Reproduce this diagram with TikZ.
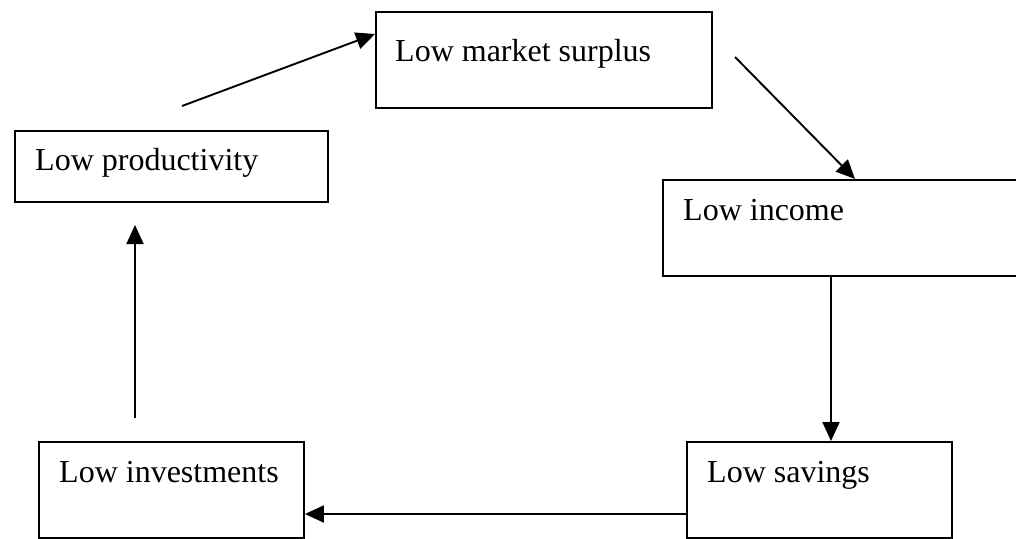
\documentclass[tikz,border=0pt]{standalone}
\usepackage{fontspec}
\setmainfont{Liberation Serif}
\usetikzlibrary{arrows.meta}
\begin{document}
\begin{tikzpicture}[x=1pt,y=1pt,
  box/.style={draw=black, line width=1.9pt, rectangle, inner sep=0pt, anchor=north west},
  lbl/.style={anchor=base west, inner sep=0pt, font=\fontsize{32}{38}\selectfont},
  arr/.style={draw=black, line width=1.9pt, -{Triangle[length=19pt,width=17pt]}}]
\clip (0,0) rectangle (1016,-538);
\fill[white] (0,0) rectangle (1016,-538);
% boxes
\node[box, minimum width=336pt, minimum height=96pt] (ms) at (375,-11) {};
\node[box, minimum width=313pt, minimum height=71pt] (pr) at (14,-130) {};
\node[box, minimum width=380pt, minimum height=96pt] (in) at (662,-179) {};
\node[box, minimum width=265pt, minimum height=96pt] (iv) at (38,-441) {};
\node[box, minimum width=265pt, minimum height=96pt] (sv) at (686,-441) {};
% texts
\node[lbl] (tms) at (395,-61) {Low market surplus};
\node[lbl] (tpr) at (35,-170) {Low productivity};
\node[lbl] (tin) at (683,-220) {Low income};
\node[lbl] (tiv) at (59,-482) {Low investments};
\node[lbl] (tsv) at (707,-482) {Low savings};
% free ends
\coordinate (a1s) at (182,-106);
\coordinate (a1e) at (ms.west |- 0,-34);
\coordinate (a2s) at (735,-57);
\coordinate (a2e) at (855,-179);
\coordinate (a5s) at (135,-418);
\coordinate (a5e) at (135,-225);
% connectors
\draw[arr] (a1s) -- (a1e);
\draw[arr] (a2s) -- (a2e);
\draw[arr] (in.south -| 831,0) -- (sv.north -| 831,0);
\draw[arr] (sv.west |- 0,-514) -- (iv.east |- 0,-514);
\draw[arr] (a5s) -- (a5e);
\end{tikzpicture}
\end{document}
